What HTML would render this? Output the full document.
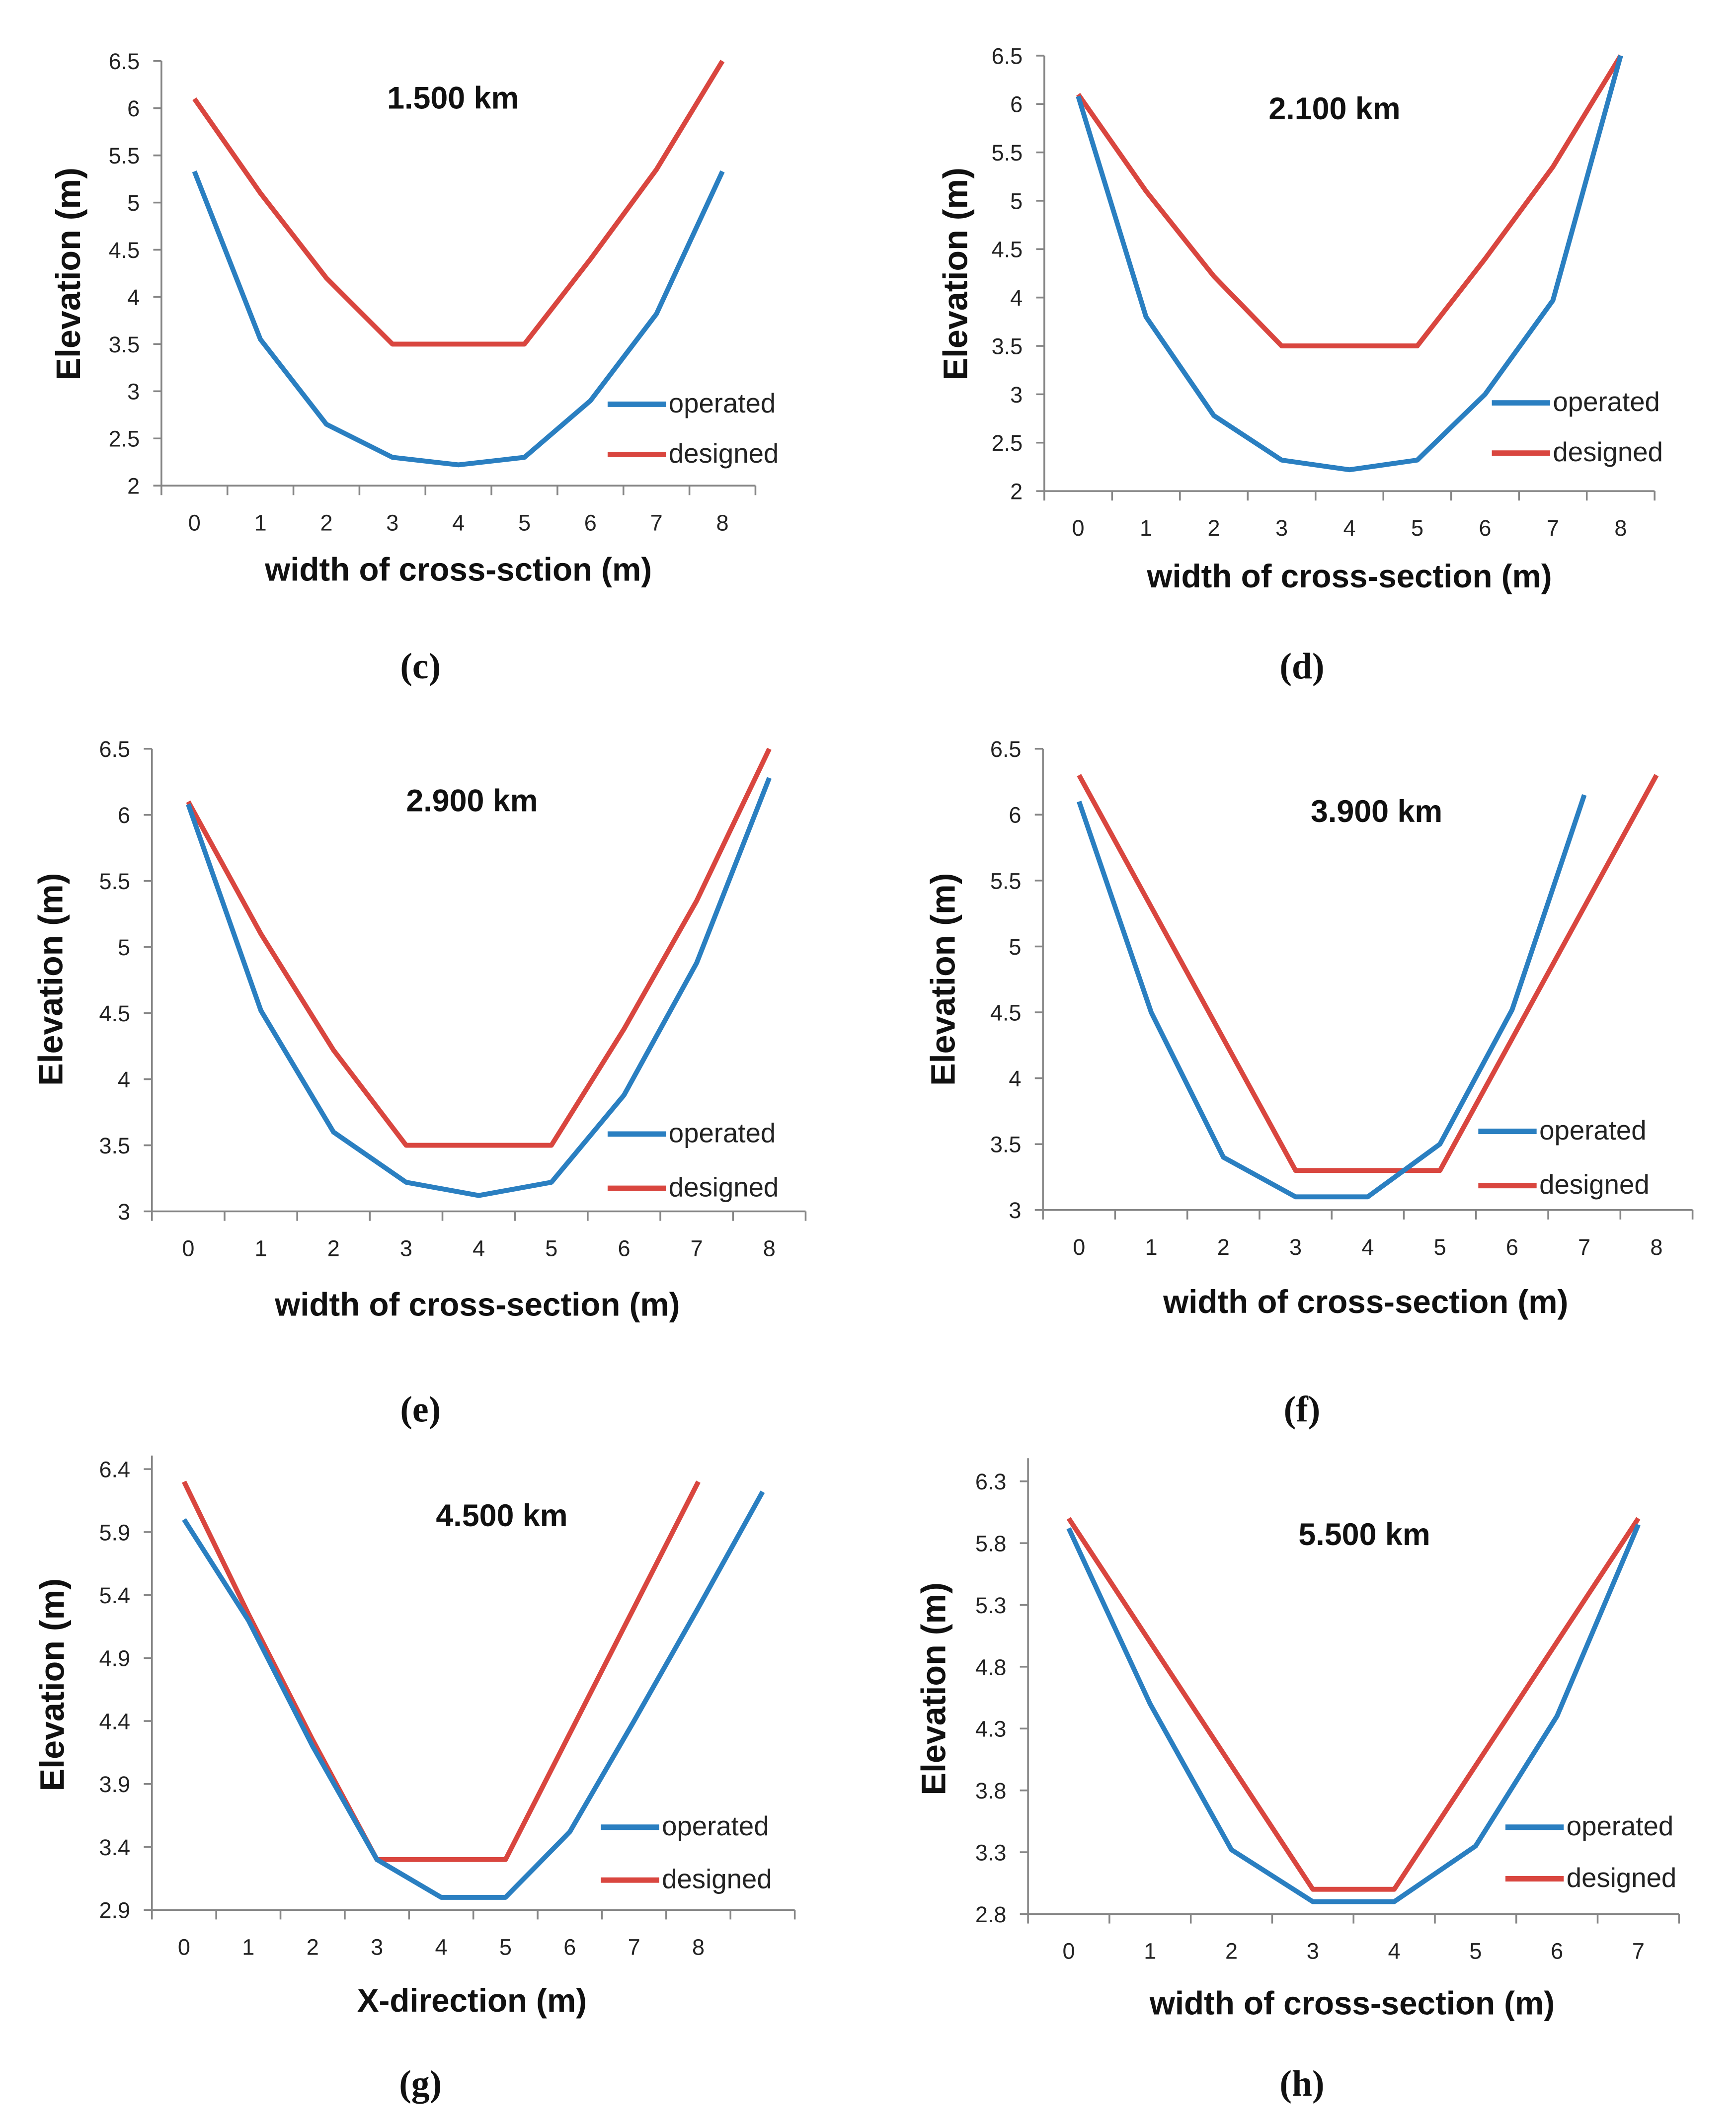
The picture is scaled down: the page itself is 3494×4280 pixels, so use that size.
<!DOCTYPE html>
<html><head><meta charset="utf-8"><style>
html,body{margin:0;padding:0;background:#fff}
svg{display:block}
text{font-family:"Liberation Sans",sans-serif}
</style></head><body>
<svg id="fig" width="3494" height="4280" viewBox="0 0 1280 1568" xmlns="http://www.w3.org/2000/svg"></svg>
<script>
// ---- data (c) ----
const cCats=[0,1,2,3,4,5,6,7,8];
const cOperated=[5.33,3.55,2.65,2.3,2.22,2.3,2.9,3.82,5.33];
const cDesigned=[6.1,5.1,4.2,3.5,3.5,3.5,4.4,5.35,6.5];
const cTicks=[2,2.5,3,3.5,4,4.5,5,5.5,6,6.5];
// ---- data (d) ----
const dCats=[0,1,2,3,4,5,6,7,8];
const dOperated=[6.08,3.8,2.78,2.32,2.22,2.32,3.0,3.97,6.5];
const dDesigned=[6.1,5.1,4.22,3.5,3.5,3.5,4.4,5.35,6.5];
const dTicks=[2,2.5,3,3.5,4,4.5,5,5.5,6,6.5];
// ---- data (e) ----
const eCats=[0,1,2,3,4,5,6,7,8];
const eOperated=[6.08,4.52,3.6,3.22,3.12,3.22,3.88,4.88,6.28];
const eDesigned=[6.1,5.1,4.22,3.5,3.5,3.5,4.38,5.35,6.5];
const eTicks=[3,3.5,4,4.5,5,5.5,6,6.5];
// ---- data (f) ----
const fCats=[0,1,2,3,4,5,6,7,8];
const fOperated=[6.1,4.5,3.4,3.1,3.1,3.5,4.52,6.15];
const fDesigned=[6.3,5.3,4.3,3.3,3.3,3.3,4.3,5.3,6.3];
const fTicks=[3,3.5,4,4.5,5,5.5,6,6.5];
// ---- data (g) ----
const gCats=[0,1,2,3,4,5,6,7,8,""];
const gOperated=[6.0,5.2,4.2,3.3,3.0,3.0,3.52,4.4,5.3,6.22];
const gDesigned=[6.3,5.25,4.25,3.3,3.3,3.3,4.3,5.3,6.3];
const gTicks=[2.9,3.4,3.9,4.4,4.9,5.4,5.9,6.4];
// ---- data (h) ----
const hCats=[0,1,2,3,4,5,6,7];
const hOperated=[5.92,4.5,3.32,2.9,2.9,3.35,4.4,5.95];
const hDesigned=[6.0,5.0,4.0,3.0,3.0,4.0,5.0,6.0];
const hTicks=[2.8,3.3,3.8,4.3,4.8,5.3,5.8,6.3];

const NS="http://www.w3.org/2000/svg";
const svg=document.getElementById('fig');
function mk(tag,attrs,parent,txt){const e=document.createElementNS(NS,tag);for(const k in attrs)e.setAttribute(k,attrs[k]);if(txt!==undefined)e.textContent=txt;(parent||svg).appendChild(e);return e;}

const panels=[
 {id:'c',cats:cCats,op:cOperated,de:cDesigned,ticks:cTicks,L:119,R:557,T:45,B:358,axTop:45,title:'1.500 km',tx:334,ty:80,xl:'width of cross-sction (m)',xlx:338,xly:428,ylx:59,yly:202,leg:[448,298,335],cap:'(c)',capx:310,capy:500},
 {id:'d',cats:dCats,op:dOperated,de:dDesigned,ticks:dTicks,L:770,R:1220,T:41,B:362,axTop:41,title:'2.100 km',tx:984,ty:88,xl:'width of cross-section (m)',xlx:995,xly:433,ylx:713,yly:202,leg:[1100,297,334],cap:'(d)',capx:960,capy:500},
 {id:'e',cats:eCats,op:eOperated,de:eDesigned,ticks:eTicks,L:112,R:594,T:552,B:893,axTop:552,title:'2.900 km',tx:348,ty:598,xl:'width of cross-section (m)',xlx:352,xly:970,ylx:46,yly:722,leg:[448,836,876],cap:'(e)',capx:310,capy:1048},
 {id:'f',cats:fCats,op:fOperated,de:fDesigned,ticks:fTicks,L:769,R:1248,T:552,B:892,axTop:552,title:'3.900 km',tx:1015,ty:606,xl:'width of cross-section (m)',xlx:1007,xly:968,ylx:704,yly:722,leg:[1090,834,874],cap:'(f)',capx:960,capy:1048},
 {id:'g',cats:gCats,op:gOperated,de:gDesigned,ticks:gTicks,L:112,R:586,T:1083,B:1408,axTop:1073,title:'4.500 km',tx:370,ty:1125,xl:'X-direction (m)',xlx:348,xly:1483,ylx:47,yly:1242,leg:[443,1347,1386],cap:'(g)',capx:310,capy:1545},
 {id:'h',cats:hCats,op:hOperated,de:hDesigned,ticks:hTicks,L:758,R:1238,T:1092,B:1411,axTop:1075,title:'5.500 km',tx:1006,ty:1139,xl:'width of cross-section (m)',xlx:997,xly:1485,ylx:697,yly:1245,leg:[1110,1347,1385],cap:'(h)',capx:960,capy:1545}
];

panels.forEach(p=>{
 const g=mk('g',{});
 
 
 const n=p.cats.length, band=(p.R-p.L)/n;
 const y0=p.ticks[0], y1=p.ticks[p.ticks.length-1];
 const ys=v=>p.B-(v-y0)/(y1-y0)*(p.B-p.T);
 const xs=i=>p.L+band*(i+0.5);
 const ya=mk('line',{x1:p.L,y1:p.axTop,x2:p.L,y2:p.B,stroke:'#868686','stroke-width':1.3},g);
 
 
 const xa=mk('line',{x1:p.L,y1:p.B,x2:p.R,y2:p.B,stroke:'#868686','stroke-width':1.3},g);
 
 
 p.ticks.forEach(t=>{
  const y=ys(t);
  mk('line',{x1:p.L-6,y1:y,x2:p.L,y2:y,stroke:'#868686','stroke-width':1.3},g);
  const tl=mk('text',{x:p.L-16,y:y+6,'text-anchor':'end','font-size':16.5,fill:'#222'},g,String(t));
  
  
 });
 for(let i=0;i<=n;i++){const x=p.L+band*i;mk('line',{x1:x,y1:p.B,x2:x,y2:p.B+7,stroke:'#868686','stroke-width':1.3},g);}
 p.cats.forEach((c,i)=>{
  const tl=mk('text',{x:xs(i),y:p.B+33,'text-anchor':'middle','font-size':16.5,fill:'#222'},g,String(c));
  
  
 });
 const ptsD=p.de.map((v,i)=>xs(i)+','+ys(v)).join(' ');
 const ld=mk('polyline',{points:ptsD,fill:'none',stroke:'#D9463F','stroke-width':3.6,'stroke-linejoin':'round'},g);
 
 
 const ptsO=p.op.map((v,i)=>xs(i)+','+ys(v)).join(' ');
 const lo=mk('polyline',{points:ptsO,fill:'none',stroke:'#2A7FC1','stroke-width':3.6,'stroke-linejoin':'round'},g);
 
 
 const lx=p.leg[0];
 const l1=mk('line',{x1:lx,y1:p.leg[1],x2:lx+43,y2:p.leg[1],stroke:'#2A7FC1','stroke-width':4},g);
 
 
 const t1=mk('text',{x:lx+45,y:p.leg[1]+6,'font-size':20,fill:'#222'},g,'operated');
 
 
 const l2=mk('line',{x1:lx,y1:p.leg[2],x2:lx+43,y2:p.leg[2],stroke:'#D9463F','stroke-width':4},g);
 
 
 const t2=mk('text',{x:lx+45,y:p.leg[2]+6,'font-size':20,fill:'#222'},g,'designed');
 
 
 const tt=mk('text',{x:p.tx,y:p.ty,'text-anchor':'middle','font-size':23,'font-weight':'bold',fill:'#111'},g,p.title);
 
 
 const xt=mk('text',{x:p.xlx,y:p.xly,'text-anchor':'middle','font-size':24,'font-weight':'bold',fill:'#111'},g,p.xl);
 
 
 const yt=mk('text',{x:0,y:0,'text-anchor':'middle','font-size':25,'font-weight':'bold',fill:'#111',transform:'translate('+p.ylx+','+p.yly+') rotate(-90)'},g,'Elevation (m)');
 
 
 const cp=mk('text',{x:p.capx,y:p.capy,'text-anchor':'middle','font-size':27,'font-weight':'bold',fill:'#111'},g,p.cap);
 
 
 cp.style.fontFamily='"Liberation Serif",serif';
});
</script>
</body></html>
